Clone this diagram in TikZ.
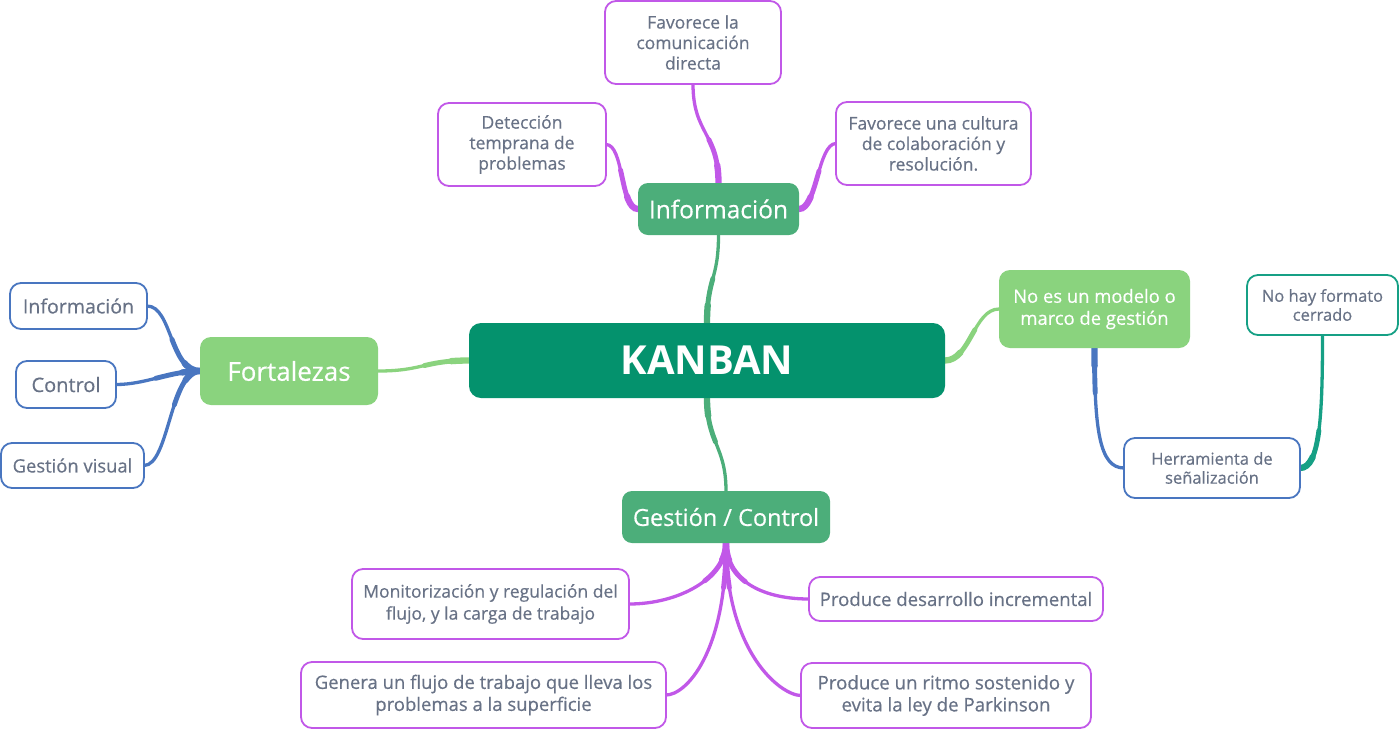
\documentclass[tikz,border=0pt]{standalone}
\usepackage{fontspec}
\setmainfont{Open Sans}[FakeBold=0.45]
\newfontfamily\kanbanfont{Open Sans}
\usetikzlibrary{backgrounds}
\begin{document}
\begin{tikzpicture}[x=1pt,y=-1pt,
  every node/.style={inner sep=0pt, outer sep=0pt, align=center},
  leaf/.style={draw, line width=1.8pt, fill=white, rounded corners=11pt, text=txtgray},
  purpleleaf/.style={leaf, draw=mpurple},
  blueleaf/.style={leaf, draw=mblue},
  tealleaf/.style={leaf, draw=mteal},
  midnode/.style={fill=mgreen, rounded corners=10pt, text=white},
  lightnode/.style={fill=lgreen, rounded corners=11pt, text=white},
  conn/.style={draw=#1, line width=3.3pt, line cap=round,
    preaction={draw=#1, line width=4.9pt, line cap=round, dash pattern=on 45pt off 2000pt},
    preaction={draw=#1, line width=6.3pt, line cap=round, dash pattern=on 18pt off 2000pt}},
  pconn/.style={conn=mpurple},
  bconn/.style={conn=mblue},
  tconn/.style={conn=mteal},
  gconn/.style={conn=mgreen},
  lconn/.style={conn=lgreen},
]
\definecolor{dgreen}{RGB}{4,146,109}
\definecolor{mgreen}{RGB}{76,174,122}
\definecolor{lgreen}{RGB}{138,211,126}
\definecolor{mpurple}{RGB}{193,88,232}
\definecolor{mblue}{RGB}{73,118,192}
\definecolor{mteal}{RGB}{22,160,133}
\definecolor{txtgray}{RGB}{104,114,134}

\useasboundingbox (0,0) rectangle (1400,729);

% nodes
\node[fill=dgreen, rounded corners=12pt, text=white, minimum width=476pt, minimum height=75pt,
  font=\kanbanfont\fontsize{40}{46}\selectfont\bfseries] (kanban) at (707,360.5) {KANBAN};
\node[midnode, minimum width=161pt, minimum height=52pt, font=\fontsize{24.5}{28}\selectfont] (info) at (718.5,209) {Información};
\node[midnode, minimum width=208pt, minimum height=52pt, font=\fontsize{23.5}{28}\selectfont] (gest) at (726,517) {Gestión / Control};
\node[lightnode, minimum width=178pt, minimum height=68pt, font=\fontsize{26}{30}\selectfont] (fort) at (289,371) {Fortalezas};
\node[lightnode, minimum width=191pt, minimum height=78pt, font=\fontsize{18.4}{22}\selectfont] (noes) at (1094.5,309) {No es un modelo o\\marco de gestión};

\node[purpleleaf, minimum width=176pt, minimum height=83pt, font=\fontsize{17.5}{20.5}\selectfont] (favla) at (693,42.5) {Favorece la\\comunicación\\directa};
\node[purpleleaf, minimum width=168pt, minimum height=83pt, font=\fontsize{17.5}{20.5}\selectfont] (detec) at (522,144.5) {Detección\\temprana de\\problemas};
\node[purpleleaf, minimum width=195pt, minimum height=83pt, font=\fontsize{17.5}{20.5}\selectfont] (favuna) at (933.5,143.5) {Favorece una cultura\\de colaboración y\\resolución.};

\node[blueleaf, minimum width=137pt, minimum height=46pt, font=\fontsize{19.6}{22}\selectfont] (infol) at (78.5,306) {Información};
\node[blueleaf, minimum width=100pt, minimum height=47pt, font=\fontsize{20}{22}\selectfont] (control) at (66,384.5) {Control};
\node[blueleaf, minimum width=143pt, minimum height=45pt, font=\fontsize{18.4}{22}\selectfont] (gestvis) at (72.5,465.5) {Gestión visual};

\node[tealleaf, minimum width=151pt, minimum height=60pt, font=\fontsize{16.5}{19}\selectfont] (nohay) at (1322.5,305) {No hay formato\\cerrado};
\node[blueleaf, minimum width=176pt, minimum height=60pt, font=\fontsize{16.5}{19}\selectfont] (herr) at (1212,468) {Herramienta de\\señalización};

\node[purpleleaf, minimum width=277pt, minimum height=70pt, font=\fontsize{17.5}{22}\selectfont] (monit) at (490.5,604) {Monitorización y regulación del\\flujo, y la carga de trabajo};
\node[purpleleaf, minimum width=294pt, minimum height=44pt, font=\fontsize{18.6}{22}\selectfont] (proddes) at (956,599) {Produce desarrollo incremental};
\node[purpleleaf, minimum width=365pt, minimum height=66pt, font=\fontsize{18.5}{22}\selectfont] (genera) at (483.5,695) {Genera un flujo de trabajo que lleva los\\problemas a la superficie};
\node[purpleleaf, minimum width=290pt, minimum height=65pt, font=\fontsize{18.7}{22}\selectfont] (prodrit) at (946,695.5) {Produce un ritmo sostenido y\\evita la ley de Parkinson};

% connectors behind the nodes
\begin{scope}[on background layer]
\draw[gconn] (kanban.north) .. controls +(0,-45) and +(0,45) .. (info.south);
\draw[gconn] (kanban.south) .. controls +(0,45) and +(0,-45) .. (gest.north);
\draw[lconn] (kanban.west) .. controls +(-45,0) and +(45,0) .. (fort.east);
\draw[lconn] (kanban.east) .. controls +(25,0) and +(-25,0) .. (noes.west);

\draw[pconn] (info.west) .. controls +(-18,0) and +(18,0) .. (detec.east);
\draw[pconn] (info.north) .. controls +(0,-50) and +(0,50) .. (favla.south);
\draw[pconn] (info.east) .. controls +(18,0) and +(-18,0) .. (favuna.west);

\draw[bconn] (fort.west) .. controls +(-30,0) and +(25,0) .. (infol.east);
\draw[bconn] (fort.west) .. controls +(-30,0) and +(30,0) .. (control.east);
\draw[bconn] (fort.west) .. controls +(-30,0) and +(25,0) .. (gestvis.east);

\draw[bconn] (noes.south) .. controls +(0,80) and +(-25,0) .. (herr.west);
\draw[tconn] (herr.east) .. controls +(20,0) and +(0,80) .. (nohay.south);

\draw[pconn] (gest.south) .. controls +(0,35) and +(50,0) .. (monit.east);
\draw[pconn] (gest.south) .. controls +(0,35) and +(-50,0) .. (proddes.west);
\draw[pconn] (gest.south) .. controls +(0,110) and +(20,0) .. (genera.east);
\draw[pconn] (gest.south) .. controls +(0,110) and +(-20,0) .. (prodrit.west);
\end{scope}
\end{tikzpicture}
\end{document}
